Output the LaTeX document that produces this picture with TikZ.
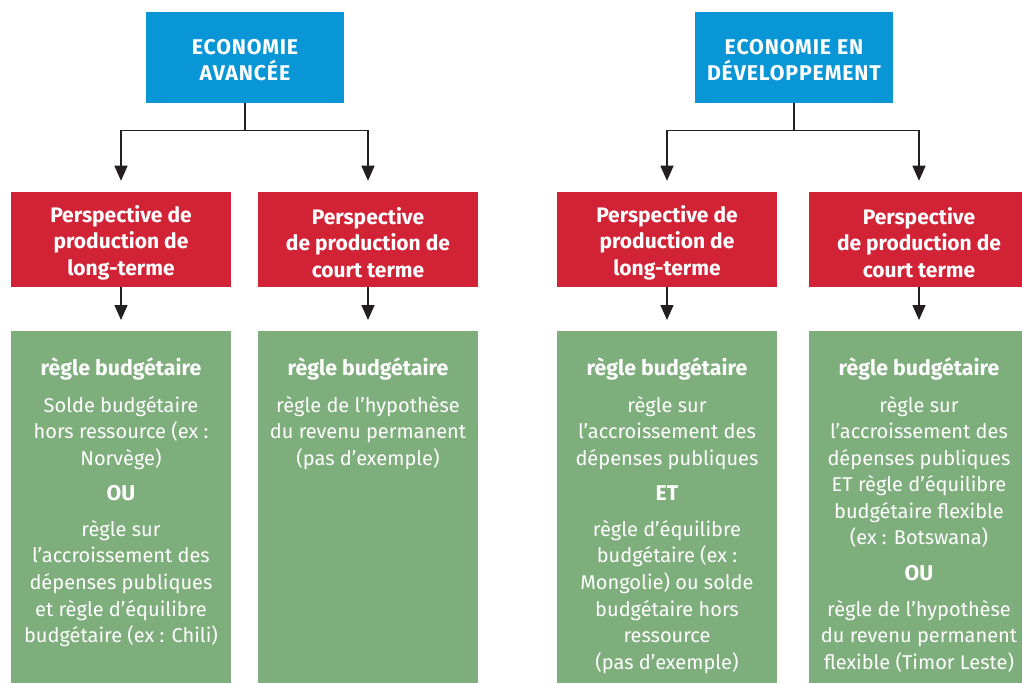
\documentclass[tikz,border=0pt]{standalone}
\usepackage{fontspec}
\setmainfont{Fira Sans}
\usetikzlibrary{arrows.meta}
\newdimen\pxu \pxu=0.75pt
\definecolor{cblue}{HTML}{0996D6}
\definecolor{cred}{HTML}{D12236}
\definecolor{cgreen}{HTML}{7FAE7D}
\definecolor{cline}{HTML}{231F20}
\newcommand{\gsep}{\\[9\pxu]}
\newcommand{\gtop}{\rule{0pt}{44\pxu}}
\newcommand{\ghead}[1]{{\fontsize{16}{19.9}\selectfont\bfseries #1}}
\tikzset{
  toptext/.style={text=white, inner sep=0pt, align=center, yshift=-2.5\pxu,
    font=\fontsize{16}{19.9}\selectfont\bfseries\addfontfeature{LetterSpace=4}},
  topbox/.style={fill=cblue, minimum width=198\pxu, minimum height=91\pxu, inner sep=0pt,
    label={[toptext]center:#1}},
  perstext/.style={text=white, inner sep=0pt, align=center, yshift=-3\pxu,
    font=\fontsize{15.75}{19.9}\selectfont\bfseries},
  persbox/.style={fill=cred, minimum width=220\pxu, minimum height=95\pxu, inner sep=0pt,
    label={[perstext]center:#1}},
  rulebox/.style={fill=cgreen, text=white, inner sep=0pt, anchor=north,
    font=\fontsize{15}{19.9}\selectfont},
  conn/.style={draw=cline, line width=1.1pt, -{Triangle[length=11.25pt,width=9.75pt]}, shorten >=8.25pt}
}
\newcommand{\gtext}[1]{\parbox[t][352\pxu][t]{220\pxu}{\centering #1}}
\begin{document}
\begin{tikzpicture}[x=0.75pt,y=-0.75pt]
\useasboundingbox (0,0) rectangle (1022,683);
% top boxes
\node[topbox={ECONOMIE\\AVANCÉE}] (b1) at (245,57.5) {};
\node[topbox={ECONOMIE EN\\DÉVELOPPEMENT}] (b2) at (794,57.5) {};
% perspective boxes
\node[persbox={Perspective de\\production de\\long-terme}] (r1) at (121,239.5) {};
\node[persbox={Perspective\\de production de\\court terme}] (r2) at (368,239.5) {};
\node[persbox={Perspective de\\production de\\long-terme}] (r3) at (667,239.5) {};
\node[persbox={Perspective\\de production de\\court terme}] (r4) at (919,239.5) {};
% rule boxes
\node[rulebox] (g1) at (121,331) {\gtext{\gtop\ghead{règle budgétaire}\\[10.5\pxu]
Solde budgétaire\\hors ressource (ex :\\Norvège)\gsep
\ghead{OU}\gsep
règle sur\\l’accroissement des\\dépenses publiques\\et règle d’équilibre\\budgétaire (ex : Chili)}};
\node[rulebox] (g2) at (368,331) {\gtext{\gtop\ghead{règle budgétaire}\\[10.5\pxu]
règle de l’hypothèse\\du revenu permanent\\(pas d’exemple)}};
\node[rulebox] (g3) at (667,331) {\gtext{\gtop\ghead{règle budgétaire}\\[10.5\pxu]
règle sur\\l’accroissement des\\dépenses publiques\gsep
\ghead{ET}\gsep
règle d’équilibre\\budgétaire (ex :\\Mongolie) ou solde\\budgétaire hors\\ressource\\(pas d’exemple)}};
\node[rulebox] (g4) at (919,331) {\gtext{\gtop\ghead{règle budgétaire}\\[10.5\pxu]
règle sur\\l’accroissement des\\dépenses publiques\\ET règle d’équilibre\\budgétaire flexible\\(ex : Botswana)\gsep
\ghead{OU}\gsep
règle de l’hypothèse\\du revenu permanent\\flexible (Timor Leste)}};
% connectors
\draw[conn] (b1.south) -- ++(0,27) -| (r1.north);
\draw[conn] (b1.south) -- ++(0,27) -| (r2.north);
\draw[conn] (b2.south) -- ++(0,27) -| (r3.north);
\draw[conn] (b2.south) -- ++(0,27) -| (r4.north);
\draw[conn] (r1.south) -- (g1.north);
\draw[conn] (r2.south) -- (g2.north);
\draw[conn] (r3.south) -- (g3.north);
\draw[conn] (r4.south) -- (g4.north);
\end{tikzpicture}
\end{document}
